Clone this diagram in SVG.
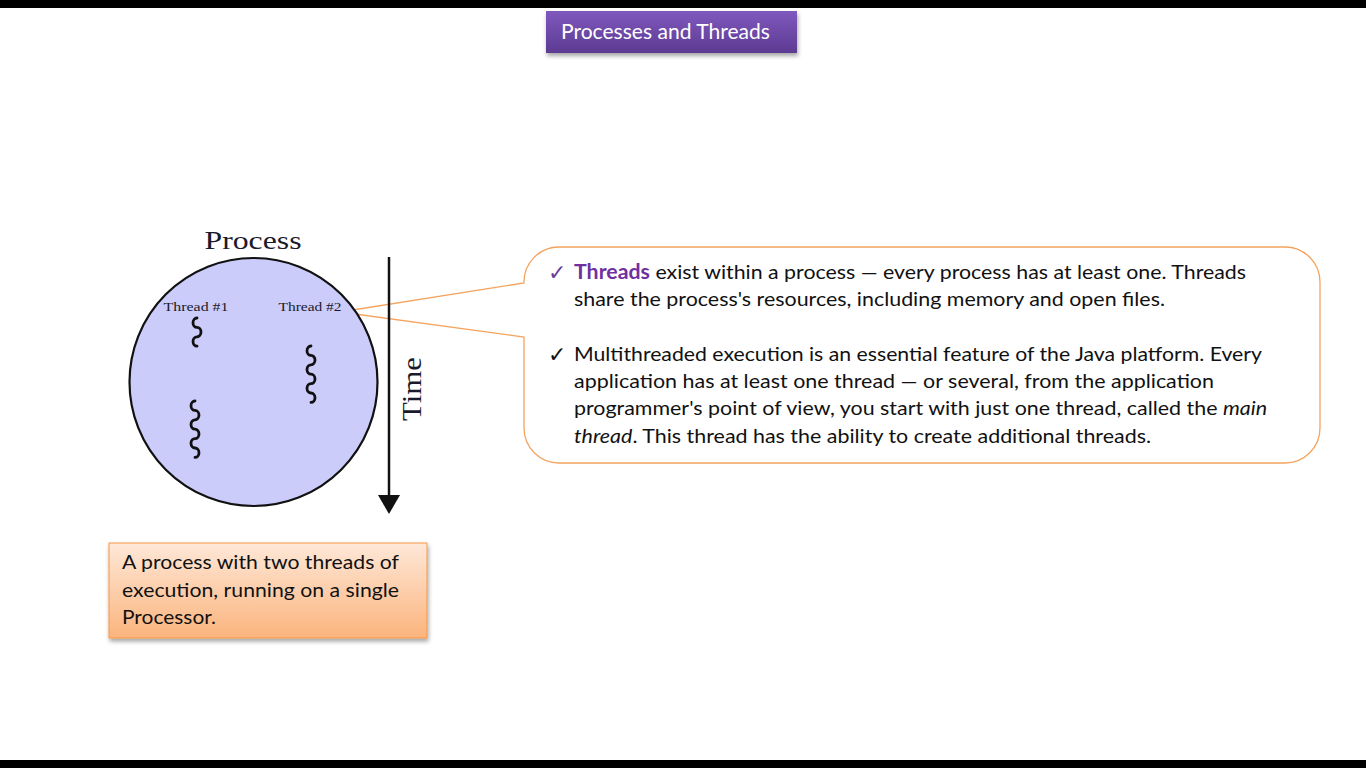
<svg xmlns="http://www.w3.org/2000/svg" width="1366" height="768" viewBox="0 0 1366 768">
<defs>
<linearGradient id="gTitle" x1="0" y1="0" x2="0" y2="1">
<stop offset="0" stop-color="#7f59be"/>
<stop offset="1" stop-color="#5d3a92"/>
</linearGradient>
<linearGradient id="gNote" x1="0" y1="0" x2="0" y2="1">
<stop offset="0" stop-color="#fee8d8"/>
<stop offset="1" stop-color="#fbb47d"/>
</linearGradient>
<filter id="shadow" x="-10%" y="-20%" width="120%" height="150%">
<feDropShadow dx="1" dy="3" stdDeviation="2" flood-color="#000" flood-opacity="0.35"/>
</filter>
<style>
.body{font-family:Lato,"Liberation Sans",sans-serif;font-size:20px;fill:#111}
.serif{font-family:"Liberation Serif","DejaVu Serif",serif;fill:#1a1a2a}
.wave{fill:none;stroke:#111;stroke-width:2.8;stroke-linecap:round}
.check{font-family:"DejaVu Sans",sans-serif;font-size:22px}
</style>
</defs>
<rect width="1366" height="768" fill="#fff"/>
<rect x="0" y="0" width="1366" height="8" fill="#000"/>
<rect x="0" y="760" width="1366" height="8" fill="#000"/>

<g id="title">
<rect x="546" y="11" width="251" height="42" fill="url(#gTitle)" filter="url(#shadow)"/>
<text x="561" y="39" font-family="Lato,'Liberation Sans',sans-serif" font-size="21" fill="#fff" textLength="209" lengthAdjust="spacingAndGlyphs">Processes and Threads</text>
</g>

<g id="callout">
<path d="M559,247 H1285 A35,35 0 0 1 1320,282 V428 A35,35 0 0 1 1285,463 H559 A35,35 0 0 1 524,428 V337 L340,312 L524,283 A35,35 0 0 1 559,247 Z" fill="none" stroke="#f4a460" stroke-width="1.3"/>
<text class="check" x="548" y="280" fill="#6a3d9a">✓</text>
<text class="body" x="574" y="279" textLength="672" lengthAdjust="spacingAndGlyphs"><tspan font-weight="bold" fill="#7030a0">Threads</tspan> exist within a process — every process has at least one. Threads</text>
<text class="body" x="574" y="306" textLength="591" lengthAdjust="spacingAndGlyphs">share the process's resources, including memory and open files.</text>
<text class="check" x="548" y="362" fill="#111">✓</text>
<text class="body" x="574" y="361" textLength="688" lengthAdjust="spacingAndGlyphs">Multithreaded execution is an essential feature of the Java platform. Every</text>
<text class="body" x="574" y="388" textLength="640" lengthAdjust="spacingAndGlyphs">application has at least one thread — or several, from the application</text>
<text class="body" x="574" y="415" textLength="693" lengthAdjust="spacingAndGlyphs">programmer's point of view, you start with just one thread, called the <tspan font-style="italic">main</tspan></text>
<text class="body" x="574" y="443" textLength="577" lengthAdjust="spacingAndGlyphs"><tspan font-style="italic">thread</tspan>. This thread has the ability to create additional threads.</text>
</g>

<g id="process">
<text class="serif" x="253" y="249" font-size="25" text-anchor="middle" textLength="97" lengthAdjust="spacingAndGlyphs">Process</text>
<circle cx="253.5" cy="382" r="124" fill="#ccccfb" stroke="#111" stroke-width="2.2"/>
<text class="serif" x="196" y="311" font-size="13" text-anchor="middle" textLength="65" lengthAdjust="spacingAndGlyphs">Thread #1</text>
<text class="serif" x="310" y="311" font-size="13" text-anchor="middle" textLength="63" lengthAdjust="spacingAndGlyphs">Thread #2</text>
<path class="wave" d="M197,318 a4,4.7 0 0 0 0,9.4 a4,4.7 0 0 1 0,9.4 a4,4.7 0 0 0 0,9.4"/>
<path class="wave" d="M195,401 a4,4.7 0 0 0 0,9.4 a4,4.7 0 0 1 0,9.4 a4,4.7 0 0 0 0,9.4 a4,4.7 0 0 1 0,9.4 a4,4.7 0 0 0 0,9.4 a4,4.7 0 0 1 0,9.4"/>
<path class="wave" d="M311,346 a4,4.7 0 0 0 0,9.4 a4,4.7 0 0 1 0,9.4 a4,4.7 0 0 0 0,9.4 a4,4.7 0 0 1 0,9.4 a4,4.7 0 0 0 0,9.4 a4,4.7 0 0 1 0,9.4"/>
</g>

<g id="time">
<line x1="389" y1="257" x2="389" y2="497" stroke="#111" stroke-width="2.5"/>
<polygon points="378,495 400,495 389,514" fill="#111"/>
<text class="serif" transform="translate(421,389) rotate(-90)" font-size="28" text-anchor="middle" textLength="64" lengthAdjust="spacingAndGlyphs">Time</text>
</g>

<g id="note">
<rect x="109" y="543" width="318" height="95" fill="url(#gNote)" stroke="#f79646" stroke-width="1" filter="url(#shadow)"/>
<text class="body" x="122" y="569" textLength="277" lengthAdjust="spacingAndGlyphs">A process with two threads of</text>
<text class="body" x="122" y="597" textLength="277" lengthAdjust="spacingAndGlyphs">execution, running on a single</text>
<text class="body" x="122" y="624" textLength="94" lengthAdjust="spacingAndGlyphs">Processor.</text>
</g>
</svg>
